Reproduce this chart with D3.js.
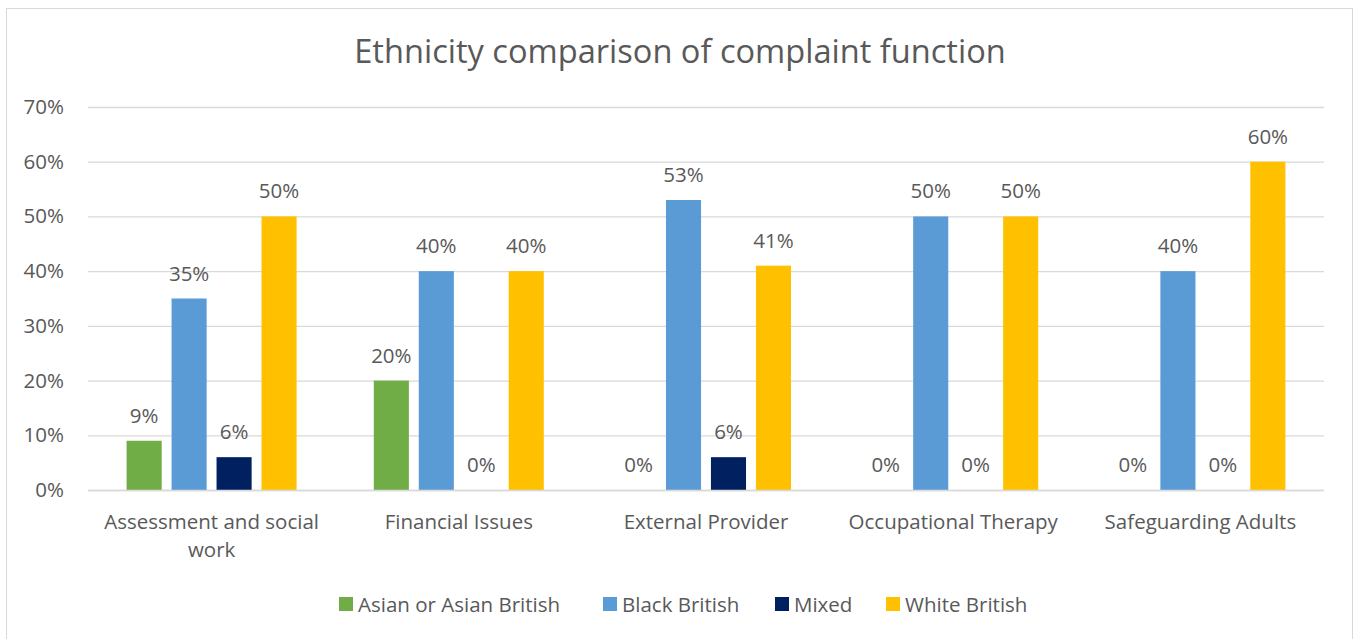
<!DOCTYPE html>
<html>
<head>
<meta charset="utf-8">
<script src="https://cdn.jsdelivr.net/npm/d3@7"></script>
<style>
  html, body { margin: 0; padding: 0; background: #fff; }
  svg { display: block; }
  text { font-family: "Open Sans", "Noto Sans", sans-serif; fill: #595959; }
</style>
</head>
<body>
<svg id="chart" width="1355" height="639"></svg>
<script>
// Complaint functions (category axis)
const categories = [
  "Assessment and social work",
  "Financial Issues",
  "External Provider",
  "Occupational Therapy",
  "Safeguarding Adults"
];
// Ethnic groups (series)
const seriesNames = ["Asian or Asian British", "Black British", "Mixed", "White British"];
const seriesColors = ["#70AD47", "#5B9BD5", "#002060", "#FFC000"];
// Share of complaints per function, percent
const asian = [9, 20, 0, 0, 0];
const black = [35, 40, 53, 50, 40];
const mixed = [6, 0, 6, 0, 0];
const white = [50, 40, 41, 50, 60];
const yTicks = [0, 10, 20, 30, 40, 50, 60, 70];

const seriesValues = [asian, black, mixed, white];
const labelSize = "20.5px";

const svg = d3.select("#chart");

// Chart frame
svg.append("rect")
  .attr("x", 6.5).attr("y", 8.5)
  .attr("width", 1346).attr("height", 640)
  .attr("fill", "#fff").attr("stroke", "#D9D9D9").attr("stroke-width", 1);

// Title
svg.append("text")
  .attr("x", 680).attr("y", 63)
  .attr("text-anchor", "middle")
  .style("font-size", "32.6px")
  .text("Ethnicity comparison of complaint function");

const plot = { left: 88, right: 1324, top: 107, bottom: 490 };

const y = d3.scaleLinear().domain([0, 70]).range([plot.bottom, plot.top]);
const x0 = d3.scaleBand().domain(categories).range([plot.left, plot.right]).padding(0);
const bw = x0.bandwidth();
const x1 = d3.scaleBand().domain(seriesNames)
  .range([bw / 2 - 85, bw / 2 + 85])
  .paddingInner(0.22).paddingOuter(0);

// Gridlines + y tick labels
const yAxis = d3.axisLeft(y)
  .tickValues(yTicks)
  .tickSize(-(plot.right - plot.left))
  .tickPadding(24)
  .tickFormat(d => d + "%");

const gy = svg.append("g")
  .attr("transform", `translate(${plot.left},0)`)
  .call(yAxis);
gy.select(".domain").remove();
gy.selectAll(".tick line").attr("stroke", "#D9D9D9").attr("stroke-width", 1.3);
gy.selectAll(".tick text")
  .style("font-size", labelSize)
  .attr("fill", "#595959");

// Bars
const groups = svg.append("g").selectAll("g")
  .data(categories)
  .join("g")
  .attr("transform", d => `translate(${x0(d)},0)`);

const cells = groups.selectAll("g.cell")
  .data((c, i) => seriesNames.map((s, k) => ({ series: s, k, value: seriesValues[k][i] })))
  .join("g").attr("class", "cell");

cells.append("rect")
  .attr("x", d => x1(d.series))
  .attr("y", d => y(d.value))
  .attr("width", x1.bandwidth())
  .attr("height", d => y(0) - y(d.value))
  .attr("fill", d => seriesColors[d.k]);

// Value labels
cells.append("text")
  .attr("x", d => x1(d.series) + x1.bandwidth() / 2)
  .attr("y", d => y(d.value) - 18)
  .attr("text-anchor", "middle")
  .style("font-size", labelSize)
  .attr("fill", "#404040")
  .text(d => d.value + "%");

// Category axis baseline
svg.append("line")
  .attr("x1", plot.left).attr("x2", plot.right)
  .attr("y1", plot.bottom + 0.5).attr("y2", plot.bottom + 0.5)
  .attr("stroke", "#D9D9D9").attr("stroke-width", 1.3);

// Category labels, wrapped to band width
const xAxis = d3.axisBottom(x0).tickSize(0).tickPadding(24);
const gx = svg.append("g")
  .attr("transform", `translate(0,${plot.bottom})`)
  .call(xAxis);
gx.select(".domain").remove();
gx.selectAll(".tick text")
  .style("font-size", labelSize)
  .attr("fill", "#595959")
  .each(function (d) {
    const t = d3.select(this);
    const words = d.split(" ");
    t.text(null);
    let line = [];
    let lines = [];
    const maxW = 232;
    const probe = t.append("tspan");
    words.forEach(w => {
      line.push(w);
      probe.text(line.join(" "));
      if (probe.node().getComputedTextLength() > maxW && line.length > 1) {
        line.pop();
        lines.push(line.join(" "));
        line = [w];
      }
    });
    lines.push(line.join(" "));
    probe.remove();
    const y0 = +t.attr("y");
    lines.forEach((ln, i) => {
      t.append("tspan").attr("x", 0).attr("y", y0).attr("dy", (0.74 + i * 1.34) + "em").text(ln);
    });
  });

// Legend
const legendItems = seriesNames.map((s, k) => ({ s, k }));
const legendX = [339, 603, 775, 886];
const legend = svg.append("g");
const li = legend.selectAll("g").data(legendItems).join("g")
  .attr("transform", d => `translate(${legendX[d.k]},597)`);
li.append("rect")
  .attr("width", 14).attr("height", 14)
  .attr("fill", d => seriesColors[d.k]);
li.append("text")
  .attr("x", 19).attr("y", 14.5)
  .style("font-size", labelSize)
  .text(d => d.s);
</script>
</body>
</html>
